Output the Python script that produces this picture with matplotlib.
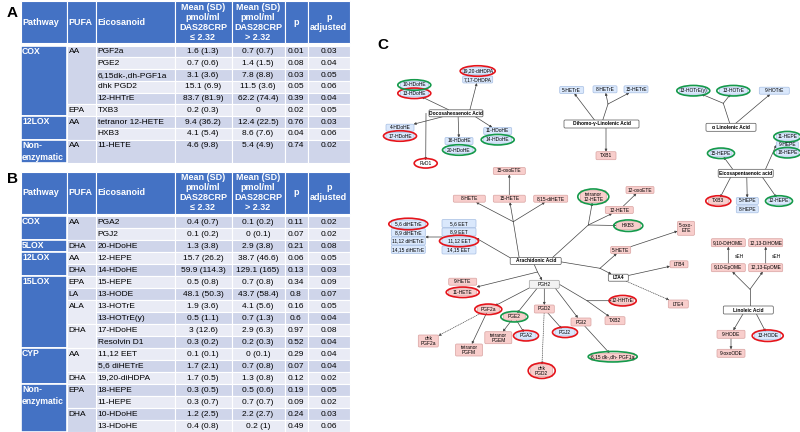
import matplotlib.pyplot as plt
from matplotlib.patches import Rectangle, FancyBboxPatch, Ellipse

# === TABLE A DATA ===
a_eico = ['PGF2a', 'PGE2', '6,15dk-,dh-PGF1a', 'dhk PGD2', '12-HHTrE', 'TXB3',
          'tetranor 12-HETE', 'HXB3', '11-HETE']
a_low = ['1.6 (1.3)', '0.7 (0.6)', '3.1 (3.6)', '15.1 (6.9)', '83.7 (81.9)', '0.2 (0.3)',
         '9.4 (36.2)', '4.1 (5.4)', '4.6 (9.8)']
a_high = ['0.7 (0.7)', '1.4 (1.5)', '7.8 (8.8)', '11.5 (3.6)', '62.2 (74.4)', '0',
          '12.4 (22.5)', '8.6 (7.6)', '5.4 (4.9)']
a_p = ['0.01', '0.08', '0.03', '0.05', '0.39', '0.02', '0.76', '0.04', '0.74']
a_padj = ['0.03', '0.04', '0.05', '0.06', '0.04', '0.05', '0.03', '0.06', '0.02']
a_paths = [('COX', 6), ('12LOX', 2), ('Non-\nenzymatic', 1)]
a_pufas = [('AA', 5), ('EPA', 1), ('AA', 2), ('AA', 1)]

# === TABLE B DATA ===
b_eico = ['PGA2', 'PGJ2', '20-HDoHE', '12-HEPE', '14-HDoHE', '15-HEPE', '13-HODE', '13-HOTrE',
          '13-HOTrE(y)', '17-HDoHE', 'Resolvin D1', '11,12 EET', '5,6 diHETrE', '19,20-diHDPA',
          '18-HEPE', '11-HEPE', '10-HDoHE', '13-HDoHE']
b_low = ['0.4 (0.7)', '0.1 (0.2)', '1.3 (3.8)', '15.7 (26.2)', '59.9 (114.3)', '0.5 (0.8)',
         '48.1 (50.3)', '1.9 (3.6)', '0.5 (1.1)', '3 (12.6)', '0.3 (0.2)', '0.1 (0.1)',
         '1.7 (2.1)', '1.7 (0.5)', '0.3 (0.5)', '0.3 (0.7)', '1.2 (2.5)', '0.4 (0.8)']
b_high = ['0.1 (0.2)', '0 (0.1)', '2.9 (3.8)', '38.7 (46.6)', '129.1 (165)', '0.7 (0.8)',
          '43.7 (58.4)', '4.1 (5.6)', '0.7 (1.3)', '2.9 (6.3)', '0.2 (0.3)', '0 (0.1)',
          '0.7 (0.8)', '1.3 (0.8)', '0.5 (0.6)', '0.7 (0.7)', '2.2 (2.7)', '0.2 (1)']
b_p = ['0.11', '0.07', '0.21', '0.06', '0.13', '0.34', '0.8', '0.16', '0.6', '0.97', '0.52',
       '0.29', '0.07', '0.12', '0.19', '0.09', '0.24', '0.49']
b_padj = ['0.02', '0.02', '0.08', '0.05', '0.03', '0.09', '0.07', '0.05', '0.04', '0.08',
          '0.04', '0.04', '0.04', '0.02', '0.05', '0.02', '0.03', '0.06']
b_paths = [('COX', 2), ('5LOX', 1), ('12LOX', 2), ('15LOX', 6), ('CYP', 3), ('Non-\nenzymatic', 4)]
b_pufas = [('AA', 2), ('DHA', 1), ('AA', 1), ('DHA', 1), ('EPA', 1), ('LA', 1), ('ALA', 2),
           ('DHA', 2), ('AA', 2), ('DHA', 1), ('EPA', 2), ('DHA', 2)]

headers = ['Pathway', 'PUFA', 'Eicosanoid', 'Mean (SD)\npmol/ml\nDAS28CRP\n≤ 2.32',
           'Mean (SD)\npmol/ml\nDAS28CRP\n> 2.32', 'p', 'p\nadjusted']

# === PATHWAY DIAGRAM (C) ===
# node -> (cx, cy, w, h, kind)   kind: pink / blue / acid / gray / junction
nodes = {
    '19,20-diHDPA': (477.7, 71, 30, 7, 'blue'), '7,17-DHDPA': (477.7, 79.5, 30, 7, 'blue'),
    '10-HDoHE': (414.3, 85, 28, 7, 'blue'), '13-HDoHE': (414.3, 93.3, 28, 7, 'blue'),
    'Docosahexaenoic Acid': (456, 113.3, 54, 7, 'acid'),
    '4-HDoHE': (400, 127.7, 28, 7, 'blue'), '17-HDoHE': (400, 136, 28, 7, 'blue'),
    '16-HDoHE': (459, 141, 28, 7, 'blue'), '20-HDoHE': (459, 150, 28, 7, 'blue'),
    '11-HDoHE': (497.7, 131, 28, 7, 'blue'), '14-HDoHE': (497.7, 139.7, 28, 7, 'blue'),
    'RvD1': (425.7, 163.3, 18, 6, 'none'),
    '5-HETrE': (571.7, 90, 24, 7, 'blue'), '8-HETrE': (605, 89.3, 24, 7, 'blue'),
    '15-HETrE': (636, 89.3, 24, 7, 'blue'),
    'Dihomo-γ-Linolenic Acid': (601.5, 124, 75, 8, 'acid'), 'TXB1': (606, 155.7, 20, 8, 'pink'),
    '13-HOTrE(γ)': (693.3, 90.7, 28, 7, 'blue'), '13-HOTrE': (733.3, 90.7, 28, 7, 'blue'),
    '9-HOTrE': (774.3, 90.7, 30, 7, 'blue'), 'α Linolenic Acid': (731, 127.3, 50, 8, 'acid'),
    '11-HEPE': (787.3, 136.7, 22, 7, 'blue'), '9-HEPE': (787.3, 145, 22, 7, 'blue'),
    '18-HEPE': (787.3, 152.7, 22, 7, 'blue'), '15-HEPE': (721, 153.3, 22, 7, 'blue'),
    'Eicosapentaenoic acid': (745.7, 173.3, 55, 8, 'acid'),
    'TXB3': (718.3, 201, 20, 7, 'pink'), '5-HEPE': (747.3, 201, 22, 7, 'blue'),
    '8-HEPE': (747.3, 209.3, 22, 7, 'blue'), '12-HEPE': (779, 201, 22, 7, 'blue'),
    '15-oxoETE': (509.3, 171, 32, 7, 'pink'), '8-HETE': (469.3, 198.7, 32, 7, 'pink'),
    '15-HETE': (509.3, 198.7, 32, 7, 'pink'), '8,15-diHETE': (550.7, 198.7, 34, 7, 'pink'),
    '5,6 diHETrE': (408.3, 224, 34, 8, 'blue'), '8,9 diHETrE': (408.3, 232.5, 34, 8, 'blue'),
    '11,12 diHETrE': (408.3, 241, 34, 8, 'blue'), '14,15 diHETrE': (408.3, 249.5, 34, 8, 'blue'),
    '5,6 EET': (459, 223.5, 34, 8, 'blue'), '8,9 EET': (459, 232, 34, 8, 'blue'),
    '11,12 EET': (459, 241, 34, 8, 'blue'), '14,15 EET': (459, 250, 34, 8, 'blue'),
    'Arachidonic Acid': (535.7, 261, 51, 7, 'acid'),
    'tetranor\n12-HETE': (593.3, 196.7, 26, 12, 'pink'), '12-oxoETE': (640, 190, 28, 7, 'pink'),
    '12-HETE': (619.3, 210, 28, 7, 'pink'), 'HXB3': (628.3, 225.7, 24, 8, 'pink'),
    '5-oxo-\nETE': (686, 228.3, 17, 14, 'pink'), '5-HETE': (620.7, 250, 20, 7, 'pink'),
    'LTB4': (679, 264.3, 18, 7, 'pink'), 'LTA4': (618.3, 277.7, 20, 7, 'acid'),
    '9,10-DiHOME': (728.3, 242.7, 34, 8, 'pink'), '12,13-DiHOME': (765.7, 242.7, 34, 8, 'pink'),
    '9,10-EpOME': (728.3, 267.7, 34, 8, 'pink'), '12,13-EpOME': (765.7, 267.7, 34, 8, 'pink'),
    'Linoleic Acid': (748.3, 310, 50, 8, 'acid'),
    '9-HODE': (731, 334.3, 28, 8, 'pink'), '13-HODE': (767.7, 335.7, 26, 8, 'blue'),
    '9-oxoODE': (731, 353.3, 28, 8, 'pink'),
    '12-HHTrE': (622.7, 300.7, 22, 7, 'pink'), 'TXB2': (615, 320.7, 20, 8, 'pink'),
    '6,15 dk-,dh- PGF1a': (612.7, 356.7, 44, 7, 'pink'), 'LTE4': (678.3, 304, 20, 8, 'pink'),
    'PGI2': (581, 322, 20, 8, 'pink'),
    '9-HETE': (462.7, 281.7, 28, 7, 'pink'), '11-HETE': (462.7, 292.3, 28, 7, 'pink'),
    'PGH2': (544.3, 284.3, 30, 8, 'gray'),
    'PGF2a': (488.3, 309.3, 22, 7, 'pink'), 'PGE2': (514.3, 316.7, 22, 7, 'pink'),
    'PGD2': (544.3, 309, 20, 8, 'pink'),
    'dhk\nPGF2a': (428.3, 341, 20, 12, 'pink'), 'tetranor\nPGFM': (469, 350, 27, 12, 'pink'),
    'tetranor\nPGEM': (498.3, 337.7, 27, 12, 'pink'), 'PGA2': (526, 335.7, 20, 7, 'blue'),
    'PGJ2': (565, 332.3, 20, 7, 'blue'), 'dhk\nPGD2': (541.7, 370.7, 22, 12, 'pink'),
    # branch points
    'j_dgla': (608, 104, 0, 0, 'junction'), 'j_ala': (723.3, 103.3, 0, 0, 'junction'),
    'j_aa1': (513.3, 221.7, 0, 0, 'junction'), 'j_aa2': (588.3, 225, 0, 0, 'junction'),
    'j_aa3': (600, 268.3, 0, 0, 'junction'), 'j_pg': (537.5, 272, 0, 0, 'junction'),
    'j_pgh': (587, 300.7, 0, 0, 'junction'), 'j_la': (750, 289.3, 0, 0, 'junction'),
}

# circled metabolites: red / green
red_rings = ['19,20-diHDPA', '13-HDoHE', '17-HDoHE', 'RvD1', 'TXB3', '5,6 diHETrE', '11,12 EET',
             '11-HETE', 'PGF2a', 'PGA2', 'PGJ2', 'dhk\nPGD2', '12-HHTrE', '13-HODE']
green_rings = ['10-HDoHE', '20-HDoHE', '14-HDoHE', '13-HOTrE(γ)', '13-HOTrE', '11-HEPE',
               '18-HEPE', '15-HEPE', '12-HEPE', 'tetranor\n12-HETE', 'HXB3', 'PGE2',
               '6,15 dk-,dh- PGF1a']

# (source, target, style) ; a = arrow, l = line, d = dotted arrow
edges = [
    ('Docosahexaenoic Acid', '13-HDoHE', 'a'), (('Docosahexaenoic Acid', 13, 0), '7,17-DHDPA', 'a'),
    ('Docosahexaenoic Acid', '4-HDoHE', 'a'), (('Docosahexaenoic Acid', -30, 0), 'RvD1', 'a'),
    (('Docosahexaenoic Acid', 2, 0), '16-HDoHE', 'a'), (('Docosahexaenoic Acid', 14, 0), '11-HDoHE', 'a'),
    (('Dihomo-γ-Linolenic Acid', -4, 0), '5-HETrE', 'a'), ('Dihomo-γ-Linolenic Acid', 'j_dgla', 'l'),
    ('j_dgla', '8-HETrE', 'a'), ('j_dgla', '15-HETrE', 'a'),
    (('Dihomo-γ-Linolenic Acid', 4.5, 0), 'TXB1', 'a'),
    ('α Linolenic Acid', 'j_ala', 'l'), ('j_ala', '13-HOTrE(γ)', 'a'), ('j_ala', '13-HOTrE', 'a'),
    ('α Linolenic Acid', '9-HOTrE', 'a'),
    (('Eicosapentaenoic acid', -10, 0), '15-HEPE', 'a'), (('Eicosapentaenoic acid', 18, 0), ('9-HEPE', -11, 0), 'a'),
    (('Eicosapentaenoic acid', -13, 0), 'TXB3', 'a'), (('Eicosapentaenoic acid', 1, 0), '5-HEPE', 'a'),
    (('Eicosapentaenoic acid', 14, 0), '12-HEPE', 'a'),
    (('Arachidonic Acid', -16, 0), 'j_aa1', 'l'), ('j_aa1', '8-HETE', 'a'), ('j_aa1', '15-HETE', 'a'),
    ('j_aa1', '8,15-diHETE', 'a'), ('15-HETE', '15-oxoETE', 'a'),
    (('Arachidonic Acid', -20, 0), ('11,12 EET', 17, -3), 'a'),
    (('8,9 EET', -17, 5), ('8,9 diHETrE', 17, 4.5), 'a'),
    (('Arachidonic Acid', 13, 0), 'j_aa2', 'l'), ('j_aa2', 'tetranor\n12-HETE', 'a'),
    ('j_aa2', '12-HETE', 'a'), ('j_aa2', 'HXB3', 'a'), ('12-HETE', '12-oxoETE', 'a'),
    (('Arachidonic Acid', 20, 0), 'j_aa3', 'l'), ('j_aa3', '5-HETE', 'a'), ('j_aa3', 'LTA4', 'a'),
    ('5-HETE', '5-oxo-\nETE', 'a'), ('LTA4', 'LTB4', 'a'), ('LTA4', 'LTE4', 'd'),
    (('Arachidonic Acid', -3, 0), 'j_pg', 'l'), ('j_pg', 'PGH2', 'a'), ('j_pg', ('9-HETE', 14, 5.3), 'a'),
    (('PGH2', -8, 0), 'PGF2a', 'a'), (('PGH2', -4, 0), 'PGE2', 'a'), ('PGH2', 'PGD2', 'a'),
    (('PGH2', 8, 0), 'PGI2', 'a'), (('PGH2', 15, 0), 'j_pgh', 'l'),
    ('j_pgh', '12-HHTrE', 'a'), ('j_pgh', 'TXB2', 'a'),
    ('PGF2a', 'dhk\nPGF2a', 'd'), ('PGF2a', 'tetranor\nPGFM', 'a'), ('PGE2', 'tetranor\nPGEM', 'a'),
    ('PGE2', 'PGA2', 'a'), ('PGD2', 'dhk\nPGD2', 'd'), ('PGD2', 'PGJ2', 'a'),
    ('PGI2', '6,15 dk-,dh- PGF1a', 'a'),
    (('Linoleic Acid', 1.7, 0), 'j_la', 'l'), ('j_la', '9,10-EpOME', 'a'), ('j_la', '12,13-EpOME', 'a'),
    (('Linoleic Acid', -3, 0), '9-HODE', 'a'), (('Linoleic Acid', 6, 0), '13-HODE', 'a'),
    ('9-HODE', '9-oxoODE', 'a'), ('9,10-EpOME', '9,10-DiHOME', 'a'), ('12,13-EpOME', '12,13-DiHOME', 'a'),
]
seh_labels = [((739, 256.7), 'sEH'), ((776.7, 256.7), 'sEH')]

# === STYLES ===
BLUE = '#4472C4'
BAND_DARK = '#CFD5EA'
BAND_LIGHT = '#E9EBF5'
HEAD_FONT = ['Liberation Sans', 'DejaVu Sans']
CELL_FONT = ['Liberation Sans', 'DejaVu Sans']
DIAG_FONT = ['Liberation Sans', 'DejaVu Sans']
COLS = [21, 67, 96, 174.5, 231.5, 284.5, 307.5, 350]
KIND_STYLE = {
    'pink': ('#F8CECC', '#D9A3A1', 'normal'),
    'blue': ('#DAE8FC', '#A7BFE3', 'normal'),
    'acid': ('white', '#555555', 'bold'),
    'gray': ('#F2F2F2', '#A0A0A0', 'normal'),
    'none': ('white', 'white', 'normal'),
}


def draw_table(ax, y_head, y_data, heights, eico, low, high, p, padj, paths, pufas):
    # header
    for c in range(7):
        ax.add_patch(Rectangle((COLS[c], y_head), COLS[c + 1] - COLS[c], y_data - 2.5 - y_head,
                               facecolor=BLUE, edgecolor='white', lw=0.8))
        x0, x1 = COLS[c], COLS[c + 1]
        ym = (y_head + y_data - 2.5) / 2
        if c < 3:
            ax.text(x0 + 1.5, ym, headers[c], ha='left', va='center', color='white',
                    fontsize=6.5, fontweight='bold', family=HEAD_FONT)
        else:
            ax.text((x0 + x1) / 2, ym, headers[c], ha='center', va='center', color='white',
                    fontsize=6.5, fontweight='bold', family=HEAD_FONT, linespacing=1.15)
    tops = [y_data]
    for h in heights:
        tops.append(tops[-1] + h)
    band = [BAND_DARK if i % 2 == 0 else BAND_LIGHT for i in range(len(eico))]
    for i in range(len(eico)):
        y0, y1 = tops[i], tops[i + 1]
        for c in range(2, 7):
            ax.add_patch(Rectangle((COLS[c], y0), COLS[c + 1] - COLS[c], y1 - y0,
                                   facecolor=band[i], edgecolor='white', lw=0.8))
        yt = y0 + 6
        ax.text(COLS[2] + 1.5, yt, eico[i], ha='left', va='center', fontsize=6, family=CELL_FONT)
        for c, val in zip(range(3, 7), [low[i], high[i], p[i], padj[i]]):
            ax.text((COLS[c] + COLS[c + 1]) / 2, yt, val, ha='center', va='center',
                    fontsize=6, family=CELL_FONT)
    r = 0
    for name, n in paths:
        ax.add_patch(Rectangle((COLS[0], tops[r]), COLS[1] - COLS[0], tops[r + n] - tops[r],
                               facecolor=BLUE, edgecolor='white', lw=1.2))
        ax.text(COLS[0] + 1, tops[r] + 1.2, name, ha='left', va='top', color='white',
                fontsize=6.2, fontweight='bold', family=HEAD_FONT, linespacing=1.45)
        r += n
    r = 0
    for name, n in pufas:
        ax.add_patch(Rectangle((COLS[1], tops[r]), COLS[2] - COLS[1], tops[r + n] - tops[r],
                               facecolor=band[r], edgecolor='white', lw=0.8))
        ax.text(COLS[1] + 1.5, tops[r] + 6, name, ha='left', va='center',
                fontsize=6, family=CELL_FONT)
        r += n


def anchor(ref):
    if isinstance(ref, tuple):
        name, ox, oy = ref
    else:
        name, ox, oy = ref, 0, 0
    cx, cy, w, h, _ = nodes[name]
    return cx + ox, cy + oy, cx, cy, w / 2, h / 2


def box_exit(px, py, tx, ty, cx, cy, hw, hh):
    dx, dy = tx - px, ty - py
    ts = []
    if dx > 0:
        ts.append((cx + hw - px) / dx)
    elif dx < 0:
        ts.append((cx - hw - px) / dx)
    if dy > 0:
        ts.append((cy + hh - py) / dy)
    elif dy < 0:
        ts.append((cy - hh - py) / dy)
    t = max(0, min(min(ts) if ts else 0, 1))
    return px + t * dx, py + t * dy


def draw_diagram(ax):
    for src, dst, style in edges:
        sx, sy, scx, scy, shw, shh = anchor(src)
        tx, ty, tcx, tcy, thw, thh = anchor(dst)
        p0 = box_exit(sx, sy, tx, ty, scx, scy, shw, shh)
        p1 = box_exit(tx, ty, sx, sy, tcx, tcy, thw, thh)
        if style == 'l':
            ax.plot([p0[0], p1[0]], [p0[1], p1[1]], color='#444444', lw=0.5, zorder=2)
        else:
            ax.annotate('', xy=p1, xytext=p0, zorder=2,
                        arrowprops=dict(arrowstyle='-|>', color='#444444', lw=0.5,
                                        mutation_scale=3.5, shrinkA=0, shrinkB=0,
                                        linestyle=':' if style == 'd' else '-'))
    for name, (cx, cy, w, h, kind) in nodes.items():
        if kind == 'junction':
            continue
        fc, ec, fw = KIND_STYLE[kind]
        ax.add_patch(FancyBboxPatch((cx - w / 2, cy - h / 2), w, h,
                                    boxstyle='round,pad=0,rounding_size=1.2',
                                    facecolor=fc, edgecolor=ec, lw=0.5, zorder=3))
        ax.text(cx, cy, name, ha='center', va='center', fontsize=3.5, fontweight=fw,
                family=DIAG_FONT, linespacing=1.0, zorder=5)
    for names, col in [(red_rings, '#E5141B'), (green_rings, '#159A4B')]:
        for name in names:
            cx, cy, w, h, _ = nodes[name]
            ax.add_patch(Ellipse((cx, cy), w + 5, h + 3.5, fill=False, edgecolor=col,
                                 lw=1.2, zorder=4))
    for (x, y), s in seh_labels:
        ax.text(x, y, s, ha='center', va='center', fontsize=3.5, family=DIAG_FONT)


fig = plt.figure(figsize=(8, 4.32), dpi=100)
ax = fig.add_axes([0, 0, 1, 1])
ax.set_xlim(0, 800)
ax.set_ylim(432, 0)
ax.axis('off')

draw_table(ax, 1, 45.7, [11.75] * 8 + [23.5], a_eico, a_low, a_high, a_p, a_padj, a_paths, a_pufas)
draw_table(ax, 171.5, 216, [12.0] * 18, b_eico, b_low, b_high, b_p, b_padj, b_paths, b_pufas)
draw_diagram(ax)

ax.text(12, 13, 'A', ha='center', va='center', fontsize=11, fontweight='bold', family=HEAD_FONT)
ax.text(12, 179, 'B', ha='center', va='center', fontsize=11, fontweight='bold', family=HEAD_FONT)
ax.text(383, 45, 'C', ha='center', va='center', fontsize=11, fontweight='bold', family=HEAD_FONT)

fig.savefig('out.png', dpi=100)
